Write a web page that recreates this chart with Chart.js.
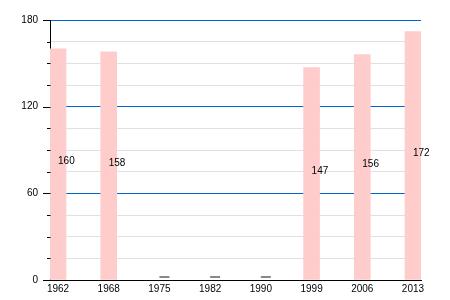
<!DOCTYPE html>
<html><head><meta charset="utf-8">
<script src="https://cdn.jsdelivr.net/npm/chart.js@4/dist/chart.umd.min.js"></script>
<style>html,body{margin:0;padding:0;background:#fff}</style>
</head><body>
<canvas id="c" width="450" height="300"></canvas>
<script>
const years = ['1962','1968','1975','1982','1990','1999','2006','2013'];
const values = [160, 158, null, null, null, 147, 156, 172];
const yMax = 180;
const yMajorStep = 60;
const yMinorStep = 15;

const FONT = '"Liberation Sans", Arial, Helvetica, sans-serif';

const overlay = {
  id: 'overlay',
  afterDraw(chart) {
    const ctx = chart.ctx, xs = chart.scales.x, ys = chart.scales.y;
    const left = chart.chartArea.left;
    ctx.save();
    ctx.strokeStyle = '#000';
    ctx.lineWidth = 1;
    for (let v = 0; v <= yMax; v += yMinorStep) {
      const py = Math.round(ys.getPixelForValue(v)) + 0.5;
      const len = v % yMajorStep === 0 ? 7 : 3;
      ctx.beginPath();
      ctx.moveTo(left - len, py);
      ctx.lineTo(left + 0.5, py);
      ctx.stroke();
    }
    ctx.font = '10px ' + FONT;
    ctx.textAlign = 'left';
    ctx.textBaseline = 'middle';
    values.forEach((v, i) => {
      const px = xs.getPixelForValue(i);
      if (v === null) {
        const py = Math.round(ys.getPixelForValue(0)) - 3;
        ctx.strokeStyle = '#888';
        ctx.lineWidth = 2;
        ctx.beginPath();
        ctx.moveTo(px, py);
        ctx.lineTo(px + 10, py);
        ctx.stroke();
      } else {
        ctx.fillStyle = '#000';
        ctx.fillText(String(v), px, ys.getPixelForValue(v / 2) - 3);
      }
    });
    ctx.restore();
  }
};

new Chart(document.getElementById('c'), {
  type: 'bar',
  data: {
    datasets: [{
      data: values.map((v, i) => ({ x: i, y: v })),
      backgroundColor: '#ffcccc',
      borderWidth: 0,
      barThickness: 16
    }]
  },
  options: {
    responsive: false,
    devicePixelRatio: 1,
    animation: false,
    layout: { padding: { top: 20, right: 29, left: 0, bottom: 0 } },
    plugins: { legend: { display: false }, tooltip: { enabled: false } },
    scales: {
      x: {
        type: 'linear',
        offset: false,
        bounds: 'ticks',
        min: -0.158,
        max: 7.158,
        afterBuildTicks: s => { s.ticks = years.map((y, i) => ({ value: i })); },
        afterFit: s => { s.height = 20; },
        grid: { display: false, drawTicks: false, offset: false },
        border: { display: true, color: '#000', width: 1 },
        ticks: {
          autoSkip: false,
          maxRotation: 0,
          padding: 3,
          color: '#000',
          font: { family: FONT, size: 10 },
          callback: v => years[v] ?? ''
        }
      },
      y: {
        min: 0,
        max: yMax,
        afterFit: s => { s.width = 50; },
        grid: {
          drawTicks: false,
          color: c => c.tick.value === 0 ? 'rgba(0,0,0,0)' : (c.tick.value % yMajorStep === 0 ? '#0066cc' : '#e0e0e0'),
          lineWidth: 1
        },
        border: { display: true, color: '#000', width: 1 },
        ticks: {
          stepSize: yMinorStep,
          autoSkip: false,
          padding: 12,
          color: '#000',
          font: { family: FONT, size: 10 },
          callback: v => v % yMajorStep === 0 ? String(v) : ''
        }
      }
    }
  },
  plugins: [overlay]
});
</script>
</body></html>
